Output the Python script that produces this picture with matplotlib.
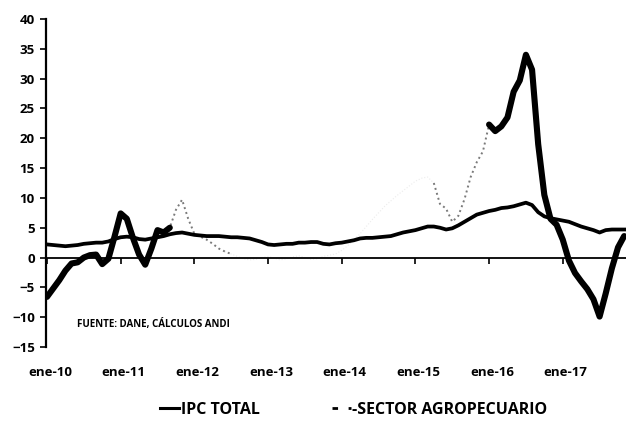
import numpy as np
import matplotlib
matplotlib.use("Agg")
import matplotlib.pyplot as plt
from matplotlib.lines import Line2D
import matplotlib.transforms as mtransforms

# ---- data (monthly, ene-2010 .. nov-2017) ----
months = np.arange(95)
ipc_total = [
    2.2, 2.1, 2.0, 1.9, 2.0, 2.1, 2.3, 2.4, 2.5, 2.5, 2.7, 3.1,
    3.4, 3.5, 3.4, 3.1, 3.0, 3.2, 3.4, 3.6, 3.9, 4.1, 4.2, 4.0,
    3.8, 3.7, 3.6, 3.6, 3.6, 3.5, 3.4, 3.4, 3.3, 3.2, 2.9, 2.6,
    2.2, 2.1, 2.2, 2.3, 2.3, 2.5, 2.5, 2.6, 2.6, 2.3, 2.2, 2.4,
    2.5, 2.7, 2.9, 3.2, 3.3, 3.3, 3.4, 3.5, 3.6, 3.9, 4.2, 4.4,
    4.6, 4.9, 5.2, 5.2, 5.0, 4.7, 4.9, 5.4, 6.0, 6.6, 7.2, 7.5,
    7.8, 8.0, 8.3, 8.4, 8.6, 8.9, 9.2, 8.8, 7.6, 6.9, 6.6, 6.4,
    6.2, 6.0, 5.6, 5.2, 4.9, 4.6, 4.2, 4.6, 4.7, 4.7, 4.7,
]
sector_agro = [
    -6.6, -5.2, -3.8, -2.2, -1.0, -0.8, 0.0, 0.4, 0.5, -1.1, -0.2, 3.5,
    7.4, 6.5, 3.3, 0.5, -1.2, 1.5, 4.6, 4.2, 5.0, 8.0, 9.7, 6.5,
    4.0, 3.5, 3.0, 2.3, 1.5, 1.0, 0.6, 0.2, -0.2, -0.4, -0.3, 0.0,
    0.2, -0.1, -0.4, -0.2, 0.1, 0.3, 0.0, -0.3, -0.2, 0.2, 0.4, 0.6,
    1.2, 2.0, 3.0, 4.0, 5.2, 6.4, 7.5, 8.6, 9.5, 10.4, 11.2, 12.0,
    12.8, 13.3, 13.5, 12.5, 9.0, 8.2, 6.0, 7.0, 9.8, 13.5, 16.0, 17.8,
    22.3, 21.2, 22.0, 23.5, 27.8, 29.7, 34.0, 31.5, 19.0, 10.5, 6.5, 5.5,
    3.0, -0.5, -2.6, -4.0, -5.3, -7.0, -9.9, -6.0, -1.8, 1.7, 3.6,
]
tick_months = [0, 12, 24, 36, 48, 60, 72, 84]
tick_labels = ["ene-10", "ene-11", "ene-12", "ene-13",
               "ene-14", "ene-15", "ene-16", "ene-17"]
y_ticks = list(range(-15, 41, 5))

plt.rcParams["font.family"] = ["Open Sans", "DejaVu Sans"]
plt.rcParams["font.weight"] = "bold"

fig = plt.figure(figsize=(6.26, 4.21), dpi=100)
ax = fig.add_axes([46 / 626, 1 - 347 / 421, 580 / 626, 328 / 421])

m = np.array(months)
agro = np.array(sector_agro)

# faded (scan) parts of the agro series
faint = (m >= 29) & (m <= 63)
grey1 = (m >= 19) & (m <= 30)
grey2 = (m >= 63) & (m <= 72)
solid1 = m <= 20
solid2 = m >= 72
ax.plot(m[faint], agro[faint], color="#ececec", lw=0.8, ls=":", zorder=1)
ax.plot(m[grey1], agro[grey1], color="#7a7a7a", lw=1.4, ls=":", zorder=2)
ax.plot(m[grey2], agro[grey2], color="#7a7a7a", lw=1.4, ls=":", zorder=2)
ax.plot(m[solid1], agro[solid1], color="black", lw=4.4, solid_capstyle="round", zorder=3)
ax.plot(m[solid2], agro[solid2], color="black", lw=4.4, solid_capstyle="round", zorder=3)
ax.plot(m, ipc_total, color="black", lw=2.7, zorder=4)

ax.set_xlim(-0.16, 94.3)
ax.set_ylim(-15, 40)
ax.set_yticks(y_ticks)
ax.set_xticks(tick_months)
ax.set_xticklabels(tick_labels)

for s in ["top", "right"]:
    ax.spines[s].set_visible(False)
ax.spines["left"].set_linewidth(1.6)
ax.spines["bottom"].set_position(("data", 0))
ax.spines["bottom"].set_linewidth(1.3)

ax.tick_params(axis="y", direction="out", length=4, width=1.2, labelsize=9.5, pad=4)
ax.tick_params(axis="x", direction="out", length=4, width=1.2, labelsize=9.5, pad=74)
off = mtransforms.ScaledTranslation(3 / 100, 0, fig.dpi_scale_trans)
for lbl in ax.get_xticklabels():
    lbl.set_transform(lbl.get_transform() + off)
    lbl.set_fontweight("bold")
for lbl in ax.get_yticklabels():
    lbl.set_fontweight("bold")

ax.text(77 / 626, 1 - 324 / 421, "FUENTE: DANE, CÁLCULOS ANDI", transform=fig.transFigure,
        fontsize=7, fontweight="bold", ha="left", va="center")

handles = [
    Line2D([], [], color="black", lw=2.2),
    Line2D([], [], color="black", lw=2.0, dashes=(2.0, 3.8)),
]
fig.legend(handles, ["IPC TOTAL", "-SECTOR AGROPECUARIO"], loc="center",
           bbox_to_anchor=(0.565, 1 - 410 / 421), ncol=2, frameon=False,
           prop={"weight": "bold", "size": 11.5}, handlelength=1.2,
           handletextpad=0.1, columnspacing=4.5, borderaxespad=0)

fig.savefig("out.png", dpi=100)
